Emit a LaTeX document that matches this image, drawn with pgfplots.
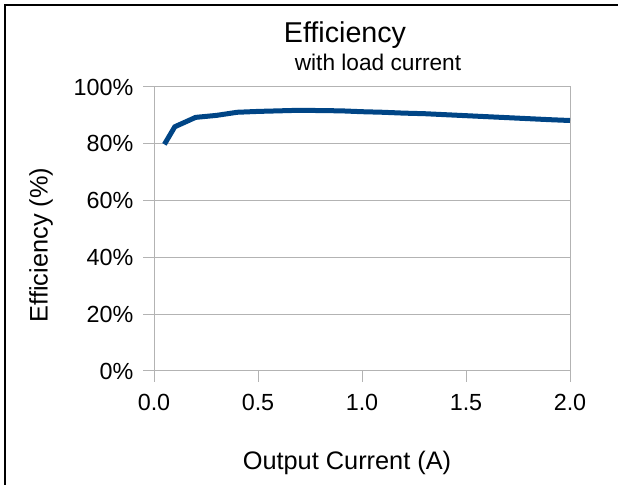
\documentclass[border=0pt]{standalone}
\usepackage{pgfplots}
\pgfplotsset{compat=1.18}
\usepackage{fontspec}
\setmainfont{Liberation Sans}
\definecolor{series}{HTML}{004586}
\definecolor{gridgray}{HTML}{B3B3B3}

\pgfplotstableread{
x     eff
0.05  79.8
0.10  86.0
0.20  89.3
0.30  90.0
0.40  91.1
0.50  91.4
0.70  91.8
0.90  91.6
1.00  91.3
1.10  91.1
1.20  90.8
1.30  90.6
1.50  89.9
1.70  89.2
1.90  88.5
2.00  88.2
}\effdata

\begin{document}
\begin{tikzpicture}[x=0.75pt,y=0.75pt]
\useasboundingbox (0,0) rectangle (618,485);
\draw[line width=1.5pt] (5,0) -- (5,480) -- (618,480);

\begin{axis}[
    at={(115.5pt,85.5pt)}, anchor=south west,
    scale only axis, width=312pt, height=213pt,
    xmin=0, xmax=2, ymin=0, ymax=100,
    xtick={0,0.5,1,1.5,2},
    xticklabels={0.0,0.5,1.0,1.5,2.0},
    ytick={0,20,40,60,80,100},
    yticklabels={0\%,20\%,40\%,60\%,80\%,100\%},
    tick align=outside,
    major tick length=8pt,
    tick style={gridgray, line width=0.75pt},
    xtick pos=bottom, ytick pos=left,
    ymajorgrids,
    grid style={gridgray, line width=0.75pt},
    axis line style={gridgray, line width=0.75pt},
    ticklabel style={font=\fontsize{17.5}{20}\selectfont, black},
    yticklabel style={xshift=-4pt},
    xticklabel style={yshift=-6pt},
]
\addplot[series, line width=3.75pt, line join=round] table[x=x, y=eff] {\effdata};
\end{axis}

\node[font=\fontsize{21.5}{24}\selectfont] at (345,450) {Efficiency};
\node[font=\fontsize{17}{20}\selectfont] at (378,423) {with load current};
\node[font=\fontsize{19}{22}\selectfont] at (347,22) {Output Current (A)};
\node[font=\fontsize{19}{22}\selectfont, rotate=90] at (41,240) {Efficiency (\%)};
\end{tikzpicture}
\end{document}
